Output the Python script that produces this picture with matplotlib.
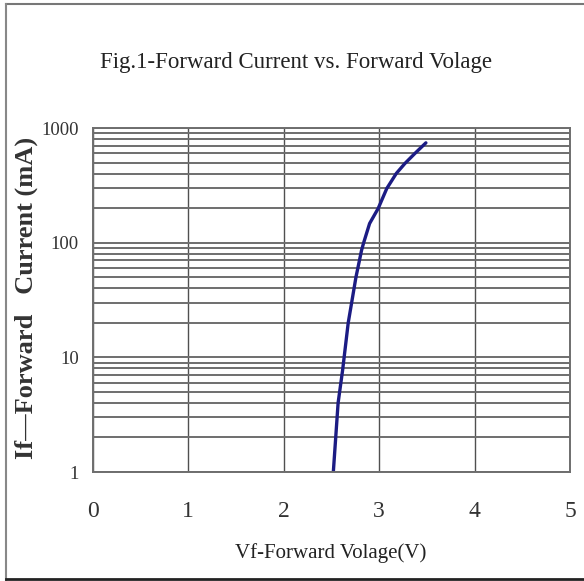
import matplotlib
matplotlib.use("Agg")
import matplotlib.pyplot as plt
from matplotlib.lines import Line2D
from matplotlib.ticker import FixedLocator, NullFormatter

plt.rcParams['font.family'] = ['Liberation Serif', 'DejaVu Serif']

# curve
vf = [2.52, 2.57, 2.617, 2.676, 2.712, 2.757, 2.816, 2.838, 2.90, 2.99,
      3.08, 3.18, 3.27, 3.375, 3.49]
i_f = [1.0, 4.0, 7.7, 20, 30, 50, 86, 100, 147, 199,
       297, 402, 491, 601, 743]

x_ticks = [0, 1, 2, 3, 4, 5]
y_ticks = [1, 10, 100, 1000]
y_labels = ["1", "10", "100", "1000"]

fig = plt.figure(figsize=(5.84, 5.81), dpi=100)
ax = fig.add_axes([0.159, 0.1876, 0.817, 0.592])

ax.set_yscale('log')
ax.set_xlim(0, 5)
ax.set_ylim(1, 1000)

# grid: every value 1..9 in each decade
minor = [m * 10 ** d for d in range(3) for m in range(2, 10)]
ax.yaxis.set_minor_locator(FixedLocator(minor))
ax.yaxis.set_minor_formatter(NullFormatter())
ax.set_yticks(y_ticks)
ax.set_yticklabels(y_labels)
ax.set_xticks(x_ticks)

ax.grid(which='both', axis='y', color='#6e6e6e', linewidth=1.4)
ax.grid(which='major', axis='x', color='#505050', linewidth=1.0)
ax.set_axisbelow(True)

ax.plot(vf, i_f, color='#1c1c84', linewidth=2.4, solid_capstyle='round')

for s in ['top', 'bottom', 'left', 'right']:
    ax.spines[s].set_color('#6e6e6e')
    ax.spines[s].set_linewidth(1.4)

ax.tick_params(which='both', length=0)
ax.tick_params(axis='y', labelsize=13.5, pad=10, colors='#333333')
ax.tick_params(axis='x', labelsize=17, pad=21, colors='#333333')

fig.text(0.507, 0.893, "Fig.1-Forward Current vs. Forward Volage",
         ha='center', va='center', fontsize=16.5, color='#222222')
fig.text(0.567, 0.048, "Vf-Forward Volage(V)",
         ha='center', va='center', fontsize=15, color='#222222')
fig.text(0.045, 0.487, "If\u2014Forward   Current (mA)", rotation=90,
         ha='center', va='center', fontsize=19, color='#333333',
         fontweight='bold')

# outer frame of the picture
fig.add_artist(Line2D([0.010, 1.0], [0.993, 0.993], color='#777777', linewidth=1.5))
fig.add_artist(Line2D([0.011, 0.011], [0.0, 0.993], color='#888888', linewidth=1.5))
fig.add_artist(Line2D([0.011, 1.0], [0.003, 0.003], color='#222222', linewidth=2))

fig.savefig("out.png", dpi=100)
